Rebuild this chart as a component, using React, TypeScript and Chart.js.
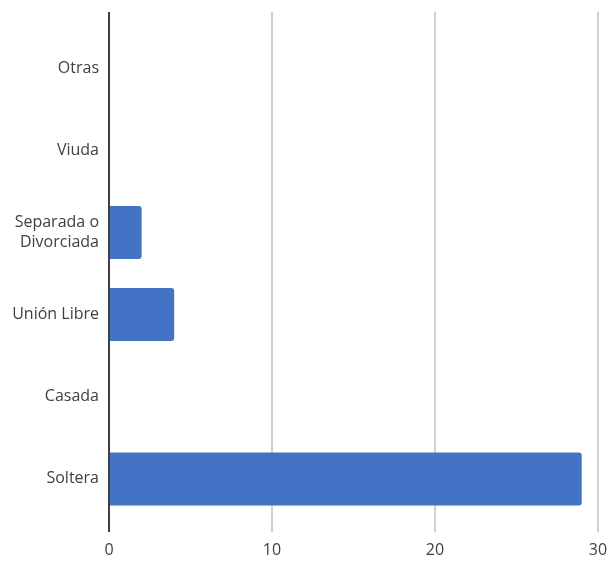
import React, { useEffect, useRef } from "react";
import { Chart, registerables } from "chart.js";

Chart.register(...registerables);

const categories: (string | string[])[] = [
  "Otras",
  "Viuda",
  ["Separada o", "Divorciada"],
  "Unión Libre",
  "Casada",
  "Soltera",
];
const values: number[] = [0, 0, 2, 4, 0, 29];
const xTicks: number[] = [0, 10, 20, 30];

const FONT = "'Open Sans', 'Noto Sans', sans-serif";
const TEXT = "#404040";
const GRID = "#d0d0d0";
const AXIS = "#404040";

export default function App() {
  const ref = useRef<HTMLCanvasElement | null>(null);

  useEffect(() => {
    if (!ref.current) return;
    const extendPlugin = {
      id: "extendLines",
      beforeDatasetsDraw(chart: any) {
        const { ctx, chartArea, scales } = chart;
        const x = scales.x;
        ctx.save();
        ctx.lineWidth = 2;
        ctx.strokeStyle = GRID;
        for (const v of xTicks) {
          if (v === 0) continue;
          const px = Math.round(x.getPixelForValue(v));
          ctx.beginPath();
          ctx.moveTo(px, 12);
          ctx.lineTo(px, chartArea.top);
          ctx.stroke();
        }
        ctx.restore();
      },
      afterDatasetsDraw(chart: any) {
        const { ctx, chartArea, scales } = chart;
        const px = Math.round(scales.x.getPixelForValue(0));
        ctx.save();
        ctx.lineWidth = 2;
        ctx.strokeStyle = AXIS;
        ctx.beginPath();
        ctx.moveTo(px, 12);
        ctx.lineTo(px, chartArea.bottom + 12);
        ctx.stroke();
        ctx.restore();
      },
    };
    const chart = new Chart(ref.current, {
      type: "bar",
      data: {
        labels: categories as any,
        datasets: [
          {
            data: values,
            backgroundColor: "#4472C4",
            borderRadius: 3,
            barPercentage: 0.645,
            categoryPercentage: 1,
          },
        ],
      },
      options: {
        indexAxis: "y",
        animation: false,
        responsive: true,
        maintainAspectRatio: false,
        layout: { padding: { top: 27, right: 14, left: 0, bottom: 0 } },
        plugins: {
          legend: { display: false },
          tooltip: { enabled: false },
        },
        scales: {
          x: {
            type: "linear",
            min: 0,
            max: 30,
            afterBuildTicks(scale: any) {
              scale.ticks = xTicks.map((v) => ({ value: v }));
            },
            afterFit(scale: any) {
              scale.height = 41;
              scale.paddingLeft = 0;
              scale.paddingRight = 0;
            },
            grid: {
              color: (c: any) => (c.tick && c.tick.value === 0 ? "rgba(0,0,0,0)" : GRID),
              lineWidth: 2,
              drawTicks: true,
              tickLength: 12,
            },
            border: { display: false },
            ticks: {
              color: TEXT,
              font: { family: FONT, size: 16 },
              padding: 9,
            },
          },
          y: {
            type: "category",
            afterFit(scale: any) {
              scale.width = 109;
            },
            grid: { display: false },
            border: { display: false },
            ticks: {
              color: TEXT,
              font: { family: FONT, size: 16, lineHeight: 1.3 },
              padding: 2,
            },
          },
        },
      },
      plugins: [extendPlugin],
    });
    return () => chart.destroy();
  }, []);

  return (
    <div style={{ position: "fixed", left: 0, top: 0, width: 612, height: 561, background: "#fff" }}>
      <canvas ref={ref} />
    </div>
  );
}
